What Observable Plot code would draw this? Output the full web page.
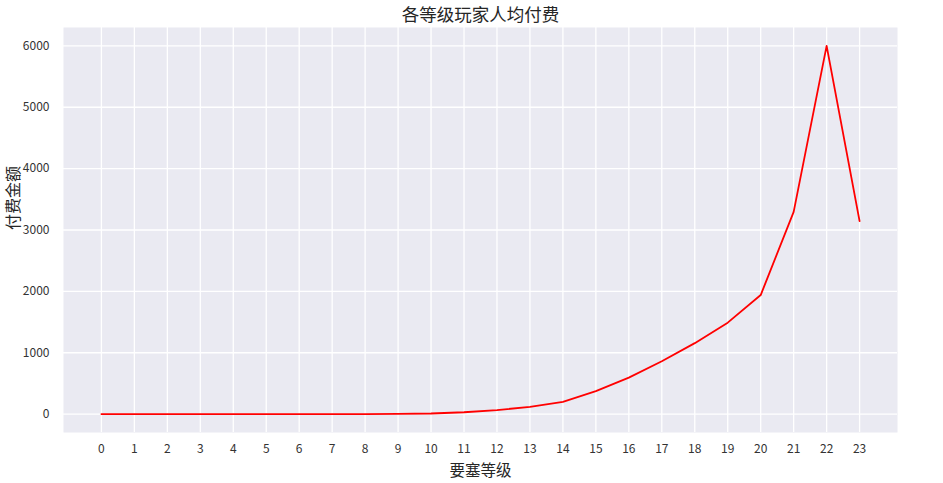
<!DOCTYPE html>
<html>
<head>
<meta charset="utf-8">
<script src="https://cdn.jsdelivr.net/npm/d3@7"></script>
<script src="https://cdn.jsdelivr.net/npm/@observablehq/plot@0.6"></script>
<style>
  html, body { margin: 0; padding: 0; background: #fff; }
</style>
</head>
<body>
<div id="chart"></div>
<script>
const levels = [0,1,2,3,4,5,6,7,8,9,10,11,12,13,14,15,16,17,18,19,20,21,22,23];
const avgPay = [0,0,0,0,0,0,0,0,1,3,10,30,65,118,200,373,594,860,1156,1490,1940,3295,6000,3144];
const yTicks = [0,1000,2000,3000,4000,5000,6000];
const titleText = "各等级玩家人均付费";
const xLabel = "要塞等级";
const yLabel = "付费金额";

const data = levels.map((l, i) => ({level: l, pay: avgPay[i]}));
const font = "'Noto Sans CJK SC', 'Noto Sans', sans-serif";

const chart = Plot.plot({
  width: 943,
  height: 483,
  marginLeft: 63,
  marginRight: 46,
  marginTop: 27,
  marginBottom: 51,
  style: {fontFamily: font, background: "#fff", color: "#262626", overflow: "visible"},
  x: {domain: [-1.15, 24.15]},
  y: {domain: [-300, 6300]},
  marks: [
    Plot.frame({fill: "#EAEAF2", stroke: null}),
    Plot.gridX(levels, {stroke: "#fff", strokeOpacity: 1, strokeWidth: 1.3}),
    Plot.gridY(yTicks, {stroke: "#fff", strokeOpacity: 1, strokeWidth: 1.3}),
    Plot.axisX(levels, {tickSize: 0, tickPadding: 12, fontSize: 12, tickFormat: d => String(d), label: null, fill: "#333"}),
    Plot.axisY(yTicks, {tickSize: 0, tickPadding: 14, fontSize: 12, tickFormat: d => String(d), label: null, fill: "#333"}),
    Plot.line(data, {x: "level", y: "pay", stroke: "#ff0000", strokeWidth: 1.8}),
    Plot.text([titleText], {frameAnchor: "top", dy: -12, fontSize: 17.5, fill: "#262626", lineAnchor: "middle"}),
    Plot.text([xLabel], {frameAnchor: "bottom", dy: 39, fontSize: 15.5, fill: "#262626", lineAnchor: "middle"}),
    Plot.text([yLabel], {frameAnchor: "left", dx: -50, rotate: -90, fontSize: 16, fill: "#262626", lineAnchor: "middle"})
  ]
});
document.getElementById("chart").appendChild(chart);
</script>
</body>
</html>
